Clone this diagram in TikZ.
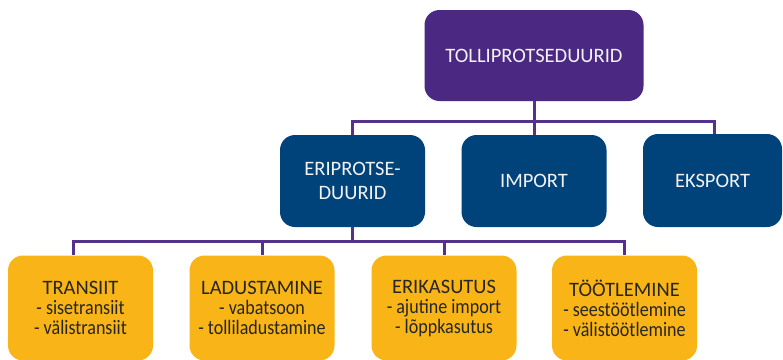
\documentclass[tikz,border=0pt]{standalone}
\usepackage{graphicx}
\usepackage{fontspec}
\setmainfont{Carlito}
\newcommand{\narrowline}[1]{\scalebox{0.88}[1]{#1}}
\definecolor{topc}{HTML}{4B2882}
\definecolor{midc}{HTML}{00427A}
\definecolor{botc}{HTML}{F9B418}
\definecolor{linec}{HTML}{55308C}
\definecolor{darktxt}{HTML}{262626}
\definecolor{lighttxt}{HTML}{F2F2F2}
\begin{document}
\begin{tikzpicture}[x=1pt,y=-1pt,
  box/.style={rounded corners=15pt, inner sep=0pt, align=center,
    font=\fontsize{20.5}{24}\selectfont},
  topbox/.style={box, fill=topc, text=lighttxt, minimum width=219pt, minimum height=91pt},
  midbox/.style={box, fill=midc, text=lighttxt, minimum width=145pt, minimum height=92pt},
  botbox/.style={box, fill=botc, text=darktxt, minimum width=145pt, minimum height=105pt,
    font=\fontsize{20.5}{20}\selectfont},
  conn/.style={draw=linec, line width=3pt}]
\useasboundingbox (0,0) rectangle (783,359);
\fill[white] (0,0) rectangle (783,359);
% buses
\coordinate (bus1) at (534,121.5);
\coordinate (bus2) at (352.5,241.5);
% boxes
\node[topbox] (top) at (534,55.5) {TOLLIPROTSEDUURID};
\node[midbox] (eri) at (352.5,181) {ERIPROTSE-\\DUURID};
\node[midbox] (imp) at (534,181) {IMPORT};
\node[midbox, minimum width=139pt, minimum height=93pt] (eks) at (712.5,180.5) {EKSPORT};
\node[botbox] (tr) at (80.5,308) {TRANSIIT\\\narrowline{- sisetransiit}\\\narrowline{- välistransiit}};
\node[botbox] (la) at (262,308) {LADUSTAMINE\\\narrowline{- vabatsoon}\\\narrowline{- tolliladustamine}};
\node[botbox] (er) at (444,308) {ERIKASUTUS\\\narrowline{- ajutine import}\\\narrowline{- lõppkasutus}};
\node[botbox] (to) at (624.5,308) {TÖÖTLEMINE\\\narrowline{- seestöötlemine}\\\narrowline{- välistöötlemine}};
% connectors
\draw[conn] (top.south) -- (imp.north);
\draw[conn] (eri.north) |- (bus1) -| ([xshift=1.5pt]eks.north);
\draw[conn] (eri.south) -- (bus2);
\draw[conn] ([xshift=-7pt]tr.north) |- (bus2) -| (to.north);
\draw[conn] (la.north) -- (la.north |- bus2);
\draw[conn] (er.north) -- (er.north |- bus2);
\end{tikzpicture}
\end{document}
